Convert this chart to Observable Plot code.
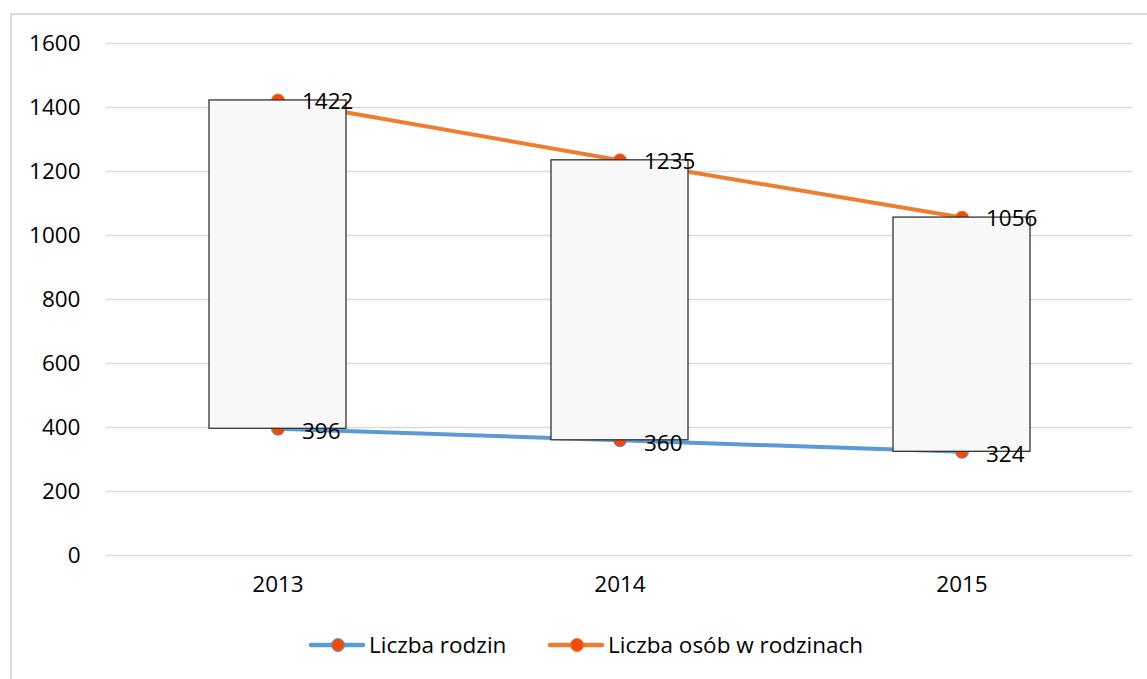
<!DOCTYPE html>
<html>
<head>
<meta charset="utf-8">
<script src="https://cdn.jsdelivr.net/npm/d3@7"></script>
<script src="https://cdn.jsdelivr.net/npm/@observablehq/plot@0.6"></script>
<style>
  html, body { margin: 0; padding: 0; background: #fff; }
  body { width: 1147px; height: 679px; position: relative; overflow: hidden; font-family: "Open Sans", sans-serif; }
  #frame { position: absolute; left: 10px; top: 13px; width: 1140px; height: 700px; border: 2px solid #d9d9d9; box-sizing: border-box; }
  #chart { position: absolute; left: 0; top: 0; }
  #legend { position: absolute; top: 629px; left: 309px; display: flex; font-size: 22.5px; color: #000; line-height: 32px; }
  .item { display: flex; align-items: center; gap: 4px; }
</style>
</head>
<body>
<div id="frame"></div>
<div id="chart"></div>
<div id="legend"></div>
<script>
const years = ["2013", "2014", "2015"];
const families = [396, 360, 324];
const persons = [1422, 1235, 1056];
const seriesNames = ["Liczba rodzin", "Liczba osób w rodzinach"];
const seriesColors = ["#5B9BD5", "#ED7D31"];
const markerColor = "#F24A0A";
const yTicks = [0, 200, 400, 600, 800, 1000, 1200, 1400, 1600];

const rows = years.map((y, i) => ({year: y, fam: families[i], per: persons[i]}));
const famData = years.map((y, i) => ({year: y, v: families[i]}));
const perData = years.map((y, i) => ({year: y, v: persons[i]}));

const chart = Plot.plot({
  width: 1147,
  height: 610,
  marginLeft: 106,
  marginRight: 15,
  marginTop: 43,
  marginBottom: 55,
  style: {fontFamily: "Open Sans, sans-serif", fontSize: "22.5px", color: "#000", background: "transparent", overflow: "visible"},
  x: {type: "band", domain: years, paddingInner: 0.6, paddingOuter: 0.3, label: null, tickSize: 0, tickPadding: 21},
  y: {domain: [0, 1600], ticks: yTicks, tickFormat: d => String(d), label: null, tickSize: 0, tickPadding: 26},
  marks: [
    Plot.ruleY(yTicks, {stroke: "#d9d9d9", strokeWidth: 1.5, strokeOpacity: 1}),
    Plot.line(famData, {x: "year", y: "v", stroke: seriesColors[0], strokeWidth: 4}),
    Plot.line(perData, {x: "year", y: "v", stroke: seriesColors[1], strokeWidth: 4}),
    Plot.dot(famData, {x: "year", y: "v", r: 6.5, fill: markerColor, stroke: seriesColors[0], strokeWidth: 1}),
    Plot.dot(perData, {x: "year", y: "v", r: 6.5, fill: markerColor, stroke: seriesColors[1], strokeWidth: 1}),
    Plot.barY(rows, {x: "year", y1: "fam", y2: "per", fill: "#f8f8f8", stroke: "#333", strokeWidth: 1.3}),
    Plot.text(famData, {x: "year", y: "v", text: d => String(d.v), dx: 24, dy: 3, textAnchor: "start", fill: "#000", fontSize: 22.5}),
    Plot.text(perData, {x: "year", y: "v", text: d => String(d.v), dx: 24, dy: 1, textAnchor: "start", fill: "#000", fontSize: 22.5})
  ]
});
document.getElementById("chart").appendChild(chart);

const legend = document.getElementById("legend");
seriesNames.forEach((name, i) => {
  const item = document.createElement("div");
  item.className = "item";
  item.innerHTML = `<svg width="56" height="16"><line x1="2" y1="8" x2="54" y2="8" stroke="${seriesColors[i]}" stroke-width="4.5" stroke-linecap="round"/><circle cx="29" cy="8" r="6.5" fill="${markerColor}" stroke="${seriesColors[i]}" stroke-width="1"/></svg><span>${name}</span>`;
  legend.appendChild(item);
});
const items = legend.querySelectorAll(".item");
const firstWidth = items[0].getBoundingClientRect().width;
items[1].style.marginLeft = Math.max(0, 548 - 309 - firstWidth) + "px";
</script>
</body>
</html>
